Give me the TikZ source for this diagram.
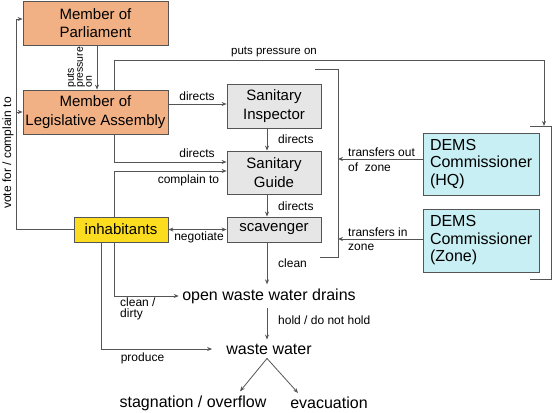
\documentclass[tikz,border=0pt]{standalone}
\usepackage{fontspec}
\setmainfont{Liberation Sans}
\usetikzlibrary{arrows.meta,calc}
\definecolor{orangebox}{HTML}{F2B184}
\definecolor{graybox}{HTML}{E6E6E6}
\definecolor{cyanbox}{HTML}{C8EFF3}
\definecolor{yellowbox}{HTML}{FCDC1E}
\definecolor{linecol}{HTML}{555555}
\begin{document}
\begin{tikzpicture}[x=1pt,y=-1pt,
 box/.style={draw=linecol, line width=0.8pt, inner sep=0pt, align=center, font=\fontsize{15}{18.5}\selectfont},
 dems/.style={draw=linecol, line width=0.8pt, fill=cyanbox, inner xsep=7pt, inner ysep=0pt, text width=102pt, align=left, minimum height=62pt, font=\fontsize{16}{17.5}\selectfont},
 arr/.style={draw=linecol, line width=0.8pt, -{Stealth[length=5pt,width=4pt]}},
 arrb/.style={draw=linecol, line width=0.8pt, {Stealth[length=5pt,width=4pt]}-{Stealth[length=5pt,width=4pt]}},
 ln/.style={draw=linecol, line width=0.8pt},
 lbl/.style={font=\fontsize{12}{14.5}\selectfont, inner sep=0pt},
 big/.style={font=\fontsize{16}{19}\selectfont, inner ysep=4pt}
]
\useasboundingbox (0,0) rectangle (553,412);

% boxes
\node[box, fill=orangebox, minimum width=145pt, minimum height=44pt] (mp) at (95.5,23) {Member of\\Parliament};
\node[box, fill=orangebox, minimum width=145pt, minimum height=44pt] (mla) at (95.5,112) {Member of\\Legislative Assembly};
\node[box, fill=graybox, minimum width=94pt, minimum height=44pt] (si) at (274,106) {Sanitary\\Inspector};
\node[box, fill=graybox, minimum width=94pt, minimum height=43pt] (sg) at (274,172.5) {Sanitary\\Guide};
\node[box, fill=graybox, minimum width=94pt, minimum height=25pt] (sc) at (274,229.5) {scavenger};
\node[box, fill=yellowbox, minimum width=94pt, minimum height=25pt] (inh) at (121,229.5) {inhabitants};
\node[dems] (hq) at (481,164) {DEMS\\Commissioner\\(HQ)};
\node[dems, minimum height=63pt] (zone) at (481,240.5) {DEMS\\Commissioner\\(Zone)};

% plain text nodes
\node[big] (drains) at (269,296) {open waste water drains};
\node[big, inner xsep=14pt] (waste) at (269,349) {waste water};
\node[big] (stag) at (193,403) {stagnation / overflow};
\node[big] (evac) at (329,403) {evacuation};

% MP -> MLA
\draw[arr] ([xshift=1.5pt]mp.south) -- ([xshift=1.5pt]mla.north);
\node[font=\fontsize{10.5}{9}\selectfont, inner sep=0pt, rotate=90, anchor=west, align=left] (pplbl) at (79.5,88) {puts\\pressure\\on};

% vote for / complain to
\coordinate (vb) at (16,229.5);
\coordinate (vt) at (16,19);
\draw[arr] (inh.west) -- (vb) -- (vt) -- (vt -| mp.west);
\draw[arr] (vb |- mla.west) -- (mla.west);
\node[lbl, rotate=90] (votelbl) at (8,153) {vote for / complain to};

% MLA -> SI
\coordinate (a1) at ([yshift=8pt]mla.east);
\draw[arr] (a1) -- (a1 -| si.west);
\node[lbl] (d1) at (197,96) {directs};

% puts pressure on
\coordinate (p0) at ([xshift=18.5pt]mla.north);
\coordinate (p1) at (544,60);
\coordinate (p2) at (544,126);
\draw[arr] (p0) |- (p1) -- (p2);
\node[font=\fontsize{11.5}{13}\selectfont, inner sep=0pt] (pplbl2) at (274,52) {puts pressure on};

% right bracket
\coordinate (rb) at (530,126);
\draw[ln] (rb) -- ++(21,0) -- ++(0,153) -- ++(-21,0);

% left bracket
\coordinate (lb) at (315,69);
\coordinate (lbx) at (338,69);
\draw[ln] (lb) -- (lbx) -- ++(0,188) -- ++(-18,0);

% DEMS transfers
\coordinate (h1) at ([yshift=5pt]hq.west);
\draw[arr] (h1) -- (h1 -| lbx);
\node[lbl, anchor=west, align=left] (tout) at (348,159.5) {transfers out\\of\ \ zone};
\coordinate (z1) at ([yshift=1.5pt]zone.west);
\draw[arr] (z1) -- (z1 -| lbx);
\node[lbl, anchor=west, align=left] (tin) at (348,239) {transfers in\\zone};

% SI -> SG -> SC
\draw[arr] ([xshift=-7pt]si.south) -- ([xshift=-7pt]sg.north);
\node[lbl, anchor=west] (d2) at (278,139) {directs};
\draw[arr] ([xshift=-7pt]sg.south) -- ([xshift=-7pt]sc.north);
\node[lbl, anchor=west] (d3) at (278,206) {directs};

% MLA -> SG
\coordinate (m1) at ([xshift=18.5pt]mla.south);
\coordinate (g1) at ([yshift=10.5pt]sg.west);
\draw[arr] (m1) |- (g1);
\node[lbl] (d4) at (197,153) {directs};

% inhabitants -> SG
\coordinate (i1) at ([xshift=-7pt]inh.north);
\coordinate (g2) at ([yshift=1.5pt]sg.west);
\draw[arr] (i1) |- (g2);
\node[lbl] (cpl) at (188.5,180) {complain to};

% negotiate
\draw[arrb] (inh.east) -- (sc.west);
\node[lbl] (neg) at (199,237) {negotiate};

% scavenger -> drains
\coordinate (c1) at ([xshift=-7pt]sc.south);
\draw[arr] (c1) -- (c1 |- drains.north);
\node[lbl, anchor=west] (cln) at (278,263) {clean};

% inhabitants -> drains
\coordinate (i2) at ([xshift=-7pt]inh.south);
\draw[arr] (i2) |- (drains.west);
\node[lbl, anchor=north west, align=left, font=\fontsize{12}{10.5}\selectfont] (cd) at (120,298) {clean /\\dirty};

% inhabitants -> waste water
\coordinate (i3) at ([xshift=-20pt]inh.south);
\draw[arr] (i3) |- (waste.west);
\node[lbl] (prod) at (142.5,358) {produce};

% drains -> waste water
\coordinate (w1) at ([xshift=-2pt]drains.south);
\draw[arr] (w1) -- (w1 |- waste.north);
\node[lbl, anchor=west] (hold) at (278,320) {hold / do not hold};

% waste water -> outcomes
\coordinate (w0) at ([xshift=-2pt]waste.south);
\draw[arr] (w0) -- ([xshift=47pt]stag.north);
\draw[arr] (w0) -- ([xshift=-31pt]evac.north);
\end{tikzpicture}
\end{document}
